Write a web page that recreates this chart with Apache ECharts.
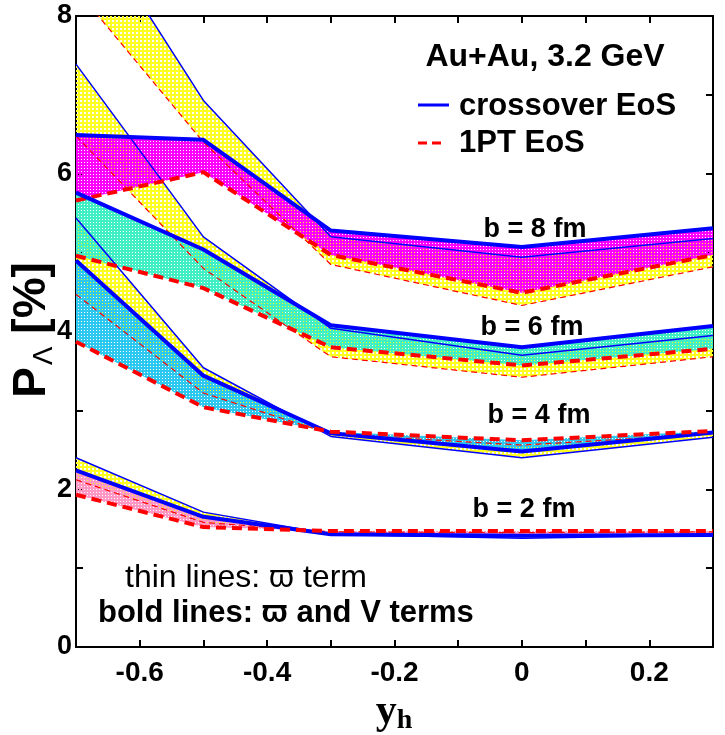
<!DOCTYPE html>
<html>
<head>
<meta charset="utf-8">
<script src="https://cdn.jsdelivr.net/npm/echarts@6/dist/echarts.min.js"></script>
<style>
  html, body { margin: 0; padding: 0; background: #fff; }
  #chart { width: 725px; height: 735px; }
</style>
</head>
<body>
<div id="chart"></div>
<script>
// rapidity points
const yh = [-0.7, -0.5, -0.3, 0, 0.3];

// b = 8 fm
const b8ThinCross = [9.45, 6.93, 5.20, 4.94, 5.18];
const b8Thin1pt   = [8.34, 6.40, 4.85, 4.33, 4.82];
const b8BoldCross = [6.49, 6.43, 5.28, 5.07, 5.31];
const b8Bold1pt   = [5.66, 6.02, 4.97, 4.49, 4.97];
// b = 6 fm
const b6ThinCross = [7.39, 5.20, 4.04, 3.70, 3.95];
const b6Thin1pt   = [6.48, 4.80, 3.68, 3.42, 3.68];
const b6BoldCross = [5.76, 5.04, 4.08, 3.80, 4.07];
const b6Bold1pt   = [4.96, 4.55, 3.80, 3.57, 3.78];
// b = 4 fm
const b4ThinCross = [5.44, 3.54, 2.67, 2.40, 2.66];
const b4Thin1pt   = [4.47, 3.22, 2.70, 2.56, 2.70];
const b4BoldCross = [4.90, 3.44, 2.71, 2.48, 2.72];
const b4Bold1pt   = [3.87, 3.04, 2.73, 2.62, 2.74];
// b = 2 fm
const b2ThinCross = [2.40, 1.71, 1.43, 1.38, 1.42];
const b2Thin1pt   = [2.12, 1.58, 1.46, 1.45, 1.46];
const b2BoldCross = [2.24, 1.65, 1.43, 1.41, 1.42];
const b2Bold1pt   = [1.93, 1.52, 1.47, 1.47, 1.47];

const xTickLabels = ['-0.6', '-0.4', '-0.2', '0', '0.2'];
const yTickLabels = ['0', '2', '4', '6', '8'];

const blue = '#0000ff';
const red = '#ff0000';

// fill patterns with see-through holes
function pattern(color, size, hole) {
  const c = document.createElement('canvas');
  c.width = size; c.height = size;
  const g = c.getContext('2d');
  g.fillStyle = color;
  g.fillRect(0, 0, size, size);
  g.clearRect(0, 0, hole, hole);
  return { image: c, repetition: 'repeat' };
}

function band(upper, lower, fill) {
  return {
    type: 'custom',
    clip: true,
    silent: true,
    data: [[0]],
    renderItem: function (params, api) {
      const pts = [];
      upper.forEach((v, i) => pts.push(api.coord([yh[i], v])));
      for (let i = lower.length - 1; i >= 0; i--) pts.push(api.coord([yh[i], lower[i]]));
      const cs = params.coordSys;
      return {
        type: 'polygon',
        shape: { points: pts },
        style: { fill: fill },
        clipPath: { type: 'rect', shape: { x: cs.x, y: cs.y, width: cs.width, height: cs.height } }
      };
    }
  };
}

function line(name, vals, color, width, dash) {
  return {
    name: name,
    type: 'line',
    symbol: 'none',
    silent: true,
    animation: false,
    data: vals.map((v, i) => [yh[i], v]),
    lineStyle: { color: color, width: width, type: dash || 'solid' }
  };
}

const yellow = pattern('#ffff22', 4, 2);
const series = [
  band(b8ThinCross, b8Thin1pt, yellow),
  band(b6ThinCross, b6Thin1pt, yellow),
  band(b4ThinCross, b4Thin1pt, yellow),
  band(b2ThinCross, b2Thin1pt, yellow),
  band(b8BoldCross, b8Bold1pt, pattern('#ff00ff', 3, 1)),
  band(b6BoldCross, b6Bold1pt, pattern('#40f0c4', 3, 1)),
  band(b4BoldCross, b4Bold1pt, pattern('#2cc8f0', 3, 1)),
  band(b2BoldCross, b2Bold1pt, pattern('#ff98c4', 3, 1))
];
[[b8ThinCross, b8Thin1pt], [b6ThinCross, b6Thin1pt], [b4ThinCross, b4Thin1pt], [b2ThinCross, b2Thin1pt]].forEach(p => {
  series.push(line('crossover EoS', p[0], blue, 1.5));
  series.push(line('1PT EoS', p[1], red, 1.2, [6, 4]));
});
[[b8BoldCross, b8Bold1pt], [b6BoldCross, b6Bold1pt], [b4BoldCross, b4Bold1pt], [b2BoldCross, b2Bold1pt]].forEach(p => {
  series.push(line('crossover EoS', p[0], blue, 4));
  series.push(line('1PT EoS', p[1], red, 4, [10, 6]));
});

const font = "'Liberation Sans', Arial, Helvetica, sans-serif";
const axisBase = {
  type: 'value',
  interval: 0.1,
  axisLine: { show: true, onZero: false, lineStyle: { color: '#000', width: 2 } },
  axisTick: { show: true, inside: true, length: 7, lineStyle: { color: '#000', width: 2 } },
  splitLine: { show: false }
};

const chart = echarts.init(document.getElementById('chart'));
chart.setOption({
  animation: false,
  backgroundColor: '#fff',
  grid: { left: 76, right: 12, top: 16, bottom: 88 },
  xAxis: [
    Object.assign({}, axisBase, {
      min: -0.7, max: 0.3, position: 'bottom',
      axisLabel: {
        margin: 12, color: '#000', fontFamily: font, fontWeight: 'bold', fontSize: 28,
        formatter: v => {
          const s = (Math.round(v * 10) / 10).toString();
          return xTickLabels.indexOf(s) >= 0 ? s : '';
        }
      }
    }),
    Object.assign({}, axisBase, { min: -0.7, max: 0.3, position: 'top', axisLabel: { show: false } })
  ],
  yAxis: [
    Object.assign({}, axisBase, {
      min: 0, max: 8, interval: 1, position: 'left',
      axisLabel: {
        margin: 4, color: '#000', fontFamily: font, fontWeight: 'bold', fontSize: 27,
        formatter: v => (yTickLabels.indexOf(String(v)) >= 0 ? String(v) : '')
      }
    }),
    Object.assign({}, axisBase, { min: 0, max: 8, interval: 1, position: 'right', axisLabel: { show: false } })
  ],
  series: series,
  graphic: [
    { type: 'text', x: 545, y: 57, style: { text: 'Au+Au, 3.2 GeV', font: 'bold 32px ' + font, fill: '#000', align: 'center', verticalAlign: 'middle' } },
    { type: 'line', shape: { x1: 418, y1: 105, x2: 449, y2: 105 }, style: { stroke: blue, lineWidth: 3 } },
    { type: 'line', shape: { x1: 418, y1: 143, x2: 446, y2: 143 }, style: { stroke: red, lineWidth: 3, lineDash: [9, 5] } },
    { type: 'text', x: 459, y: 106, style: { text: 'crossover EoS', font: 'bold 31px ' + font, fill: '#000', verticalAlign: 'middle' } },
    { type: 'text', x: 459, y: 143, style: { text: '1PT EoS', font: 'bold 31px ' + font, fill: '#000', verticalAlign: 'middle' } },
    { type: 'text', x: 535, y: 230, style: { text: 'b = 8 fm', font: 'bold 27px ' + font, fill: '#000', align: 'center', verticalAlign: 'middle' } },
    { type: 'text', x: 532, y: 328, style: { text: 'b = 6 fm', font: 'bold 27px ' + font, fill: '#000', align: 'center', verticalAlign: 'middle' } },
    { type: 'text', x: 539, y: 416, style: { text: 'b = 4 fm', font: 'bold 27px ' + font, fill: '#000', align: 'center', verticalAlign: 'middle' } },
    { type: 'text', x: 524, y: 510, style: { text: 'b = 2 fm', font: 'bold 27px ' + font, fill: '#000', align: 'center', verticalAlign: 'middle' } },
    { type: 'text', x: 125, y: 578, style: { text: 'thin lines: \u03d6 term', font: '32px ' + font, fill: '#000', verticalAlign: 'middle' } },
    { type: 'text', x: 98, y: 613, style: { text: 'bold lines: \u03d6 and V terms', font: 'bold 31px ' + font, fill: '#000', verticalAlign: 'middle' } },
    {
      type: 'text', x: 32, y: 330, rotation: Math.PI / 2,
      style: {
        text: '{p|P}{s|\u039b}{p| [%]}', align: 'center', verticalAlign: 'middle', fill: '#000',
        rich: {
          p: { font: 'bold 46px ' + font, fill: '#000' },
          s: { font: '28px ' + font, fill: '#000', padding: [24, 0, 0, 2] }
        }
      }
    },
    {
      type: 'text', x: 394, y: 712, style: {
        text: '{y|y}{h|h}', align: 'center', verticalAlign: 'middle', fill: '#000',
        rich: {
          y: { font: 'bold 42px "Liberation Serif", "Times New Roman", serif', fill: '#000' },
          h: { font: 'bold 28px "Liberation Serif", "Times New Roman", serif', fill: '#000', padding: [18, 0, 0, 0] }
        }
      }
    }
  ]
});
</script>
</body>
</html>
